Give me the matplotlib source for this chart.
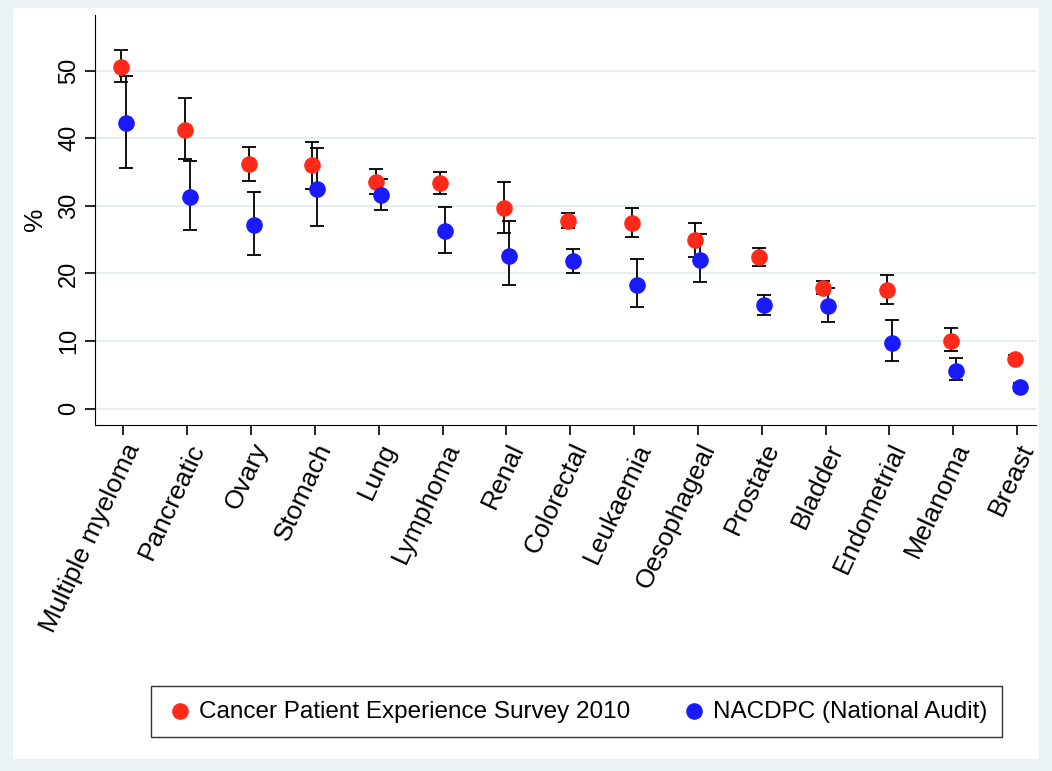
import matplotlib
matplotlib.use("Agg")
import matplotlib.pyplot as plt
import numpy as np

plt.rcParams["font.family"] = ["Liberation Sans", "DejaVu Sans"]

cancers = ["Multiple myeloma", "Pancreatic", "Ovary", "Stomach", "Lung", "Lymphoma",
           "Renal", "Colorectal", "Leukaemia", "Oesophageal", "Prostate", "Bladder",
           "Endometrial", "Melanoma", "Breast"]
cpes = [50.6, 41.3, 36.2, 36.0, 33.6, 33.4, 29.7, 27.8, 27.5, 24.9, 22.4, 17.9, 17.6, 10.0, 7.4]
cpes_lo = [48.3, 37.0, 33.7, 32.5, 31.8, 31.8, 26.0, 26.8, 25.4, 22.4, 21.1, 16.9, 15.5, 8.5, 7.0]
cpes_hi = [53.0, 45.9, 38.7, 39.4, 35.5, 35.0, 33.6, 29.0, 29.7, 27.5, 23.7, 18.9, 19.8, 11.9, 7.9]
audit = [42.3, 31.3, 27.2, 32.5, 31.6, 26.3, 22.6, 21.9, 18.3, 22.0, 15.4, 15.2, 9.7, 5.6, 3.2]
audit_lo = [35.6, 26.5, 22.8, 27.0, 29.4, 23.0, 18.3, 20.1, 15.0, 18.7, 13.9, 12.8, 7.1, 4.2, 2.6]
audit_hi = [49.2, 36.6, 32.1, 38.5, 34.0, 29.8, 27.8, 23.6, 22.2, 25.8, 16.8, 17.8, 13.1, 7.5, 3.8]

bg = "#eaf2f3"
fig = plt.figure(figsize=(10.52, 7.71), dpi=100, facecolor=bg)
fig.patches.append(plt.Rectangle((0.012, 0.015), 0.976, 0.975, transform=fig.transFigure,
                                 facecolor="white", edgecolor="none", zorder=-1))
ax = fig.add_axes([0.09, 0.449, 0.895, 0.532])
x = np.arange(len(cancers))
off = 0.04
for vals, lo, hi, col, dx, lab in [
        (cpes, cpes_lo, cpes_hi, "#ff2a1a", -off, "Cancer Patient Experience Survey 2010"),
        (audit, audit_lo, audit_hi, "#1a1aff", off, "NACDPC (National Audit)")]:
    v = np.array(vals)
    ax.errorbar(x + dx, v, yerr=[v - np.array(lo), np.array(hi) - v], fmt="none",
                ecolor="black", elinewidth=1.3, capsize=5, capthick=1.3, zorder=2)
    ax.scatter(x + dx, v, s=120, color=col, zorder=3, label=lab)

ax.set_xlim(-0.45, len(cancers) - 0.7)
ax.set_ylim(-2.4, 58.3)
ax.set_yticks([0, 10, 20, 30, 40, 50])
ax.set_yticklabels(["0", "10", "20", "30", "40", "50"], rotation=90, va="center", fontsize=17)
ax.set_ylabel("%", fontsize=19, labelpad=8)
ax.set_xticks(x)
ax.set_xticklabels(cancers, rotation=65, ha="right", rotation_mode="anchor", fontsize=19)
ax.grid(axis="y", color="#e6eeee", linewidth=1.5)
ax.set_axisbelow(True)
for s in ["top", "right"]:
    ax.spines[s].set_visible(False)
ax.tick_params(length=7, width=1.2)

fig.legend(loc="lower center", bbox_to_anchor=(0.548, 0.028), ncol=2, fontsize=17.5,
           frameon=True, fancybox=False, edgecolor="black", handletextpad=0.2,
           columnspacing=2.0, borderpad=0.6, markerscale=1.0, handlelength=1.2)
fig.savefig("out.png", dpi=100, facecolor=bg)
